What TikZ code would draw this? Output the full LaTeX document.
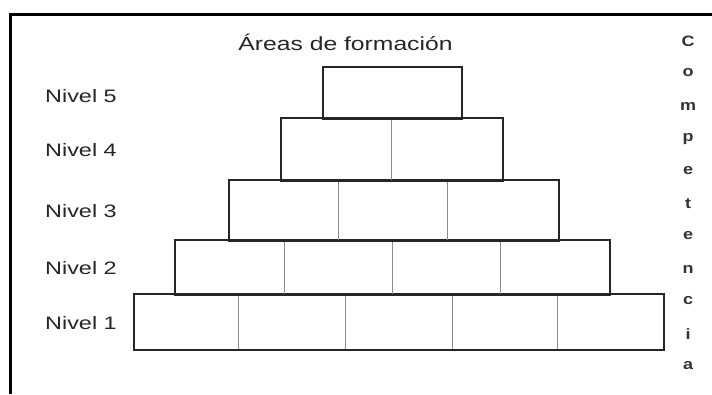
\documentclass[tikz,border=0pt]{standalone}
\usepackage{graphicx}
\usepackage{fontspec}
\setmainfont{Liberation Sans}
\newcommand{\wide}[1]{\scalebox{1.3}[1]{#1}}
\newcommand{\wideb}[1]{\scalebox{1.2}[1]{#1}}
\tikzset{
  cellbox/.style={draw=black!45, line width=1pt, inner sep=0pt, anchor=center},
  levelbox/.style={draw=black!85, line width=2pt},
  nivlabel/.style={anchor=west, inner sep=0pt, font=\fontsize{18}{20}\selectfont, text=black!85},
  title/.style={anchor=base, inner sep=0pt, font=\fontsize{19}{21}\selectfont, text=black!85},
  letter/.style={anchor=center, inner sep=0pt, font=\fontsize{15}{16}\selectfont\bfseries, text=black!80},
  frame/.style={line width=3pt, black}
}
\newcommand{\cell}[5]{\node[cellbox, minimum width=#2pt, minimum height=#4pt] (#1) at (#3,#5) {};}
\begin{document}
\begin{tikzpicture}[x=1pt,y=-1pt]
\useasboundingbox (0,0) rectangle (712,394);
\fill[white] (0,0) rectangle (712,394);
% frame
\coordinate (fbl) at (10,394);
\coordinate (ftl) at (10,14);
\coordinate (ftr) at (712,14);
\draw[frame] (fbl) -- (ftl) -- (ftr);
% title
\node[title] (areas) at (345.5,50) {\wide{Áreas de formación}};
% level 1
\cell{a1}{104}{186}{55}{321.5}
\cell{a2}{107}{291.5}{55}{321.5}
\cell{a3}{107}{398.5}{55}{321.5}
\cell{a4}{105}{504.5}{55}{321.5}
\cell{a5}{106}{610}{55}{321.5}
\draw[levelbox] (a1.north west) rectangle (a5.south east);
% level 2
\cell{b1}{109}{229.5}{54}{267}
\cell{b2}{108}{338}{54}{267}
\cell{b3}{108}{446}{54}{267}
\cell{b4}{109}{554.5}{54}{267}
\draw[levelbox] (b1.north west) rectangle (b4.south east);
% level 3
\cell{c1}{109}{283.5}{60}{210}
\cell{c2}{109}{392.5}{60}{210}
\cell{c3}{111}{502.5}{60}{210}
\draw[levelbox] (c1.north west) rectangle (c3.south east);
% level 4
\cell{d1}{110}{336}{62}{149}
\cell{d2}{111}{446.5}{62}{149}
\draw[levelbox] (d1.north west) rectangle (d2.south east);
% level 5
\cell{e1}{138}{392}{51}{92.5}
\draw[levelbox] (e1.north west) rectangle (e1.south east);
% labels
\node[nivlabel] (n5) at (45,96) {\wide{Nivel 5}};
\node[nivlabel] (n4) at (45,150) {\wide{Nivel 4}};
\node[nivlabel] (n3) at (45,211) {\wide{Nivel 3}};
\node[nivlabel] (n2) at (45,268) {\wide{Nivel 2}};
\node[nivlabel] (n1) at (45,323) {\wide{Nivel 1}};
% Competencia
\node[letter] (l1) at (688,41) {\wideb{C}};
\node[letter] (l2) at (688,73) {\wideb{o}};
\node[letter] (l3) at (688,106) {\wideb{m}};
\node[letter] (l4) at (688,139) {\wideb{p}};
\node[letter] (l5) at (688,171) {\wideb{e}};
\node[letter] (l6) at (688,204) {\wideb{t}};
\node[letter] (l7) at (688,236) {\wideb{e}};
\node[letter] (l8) at (688,269) {\wideb{n}};
\node[letter] (l9) at (688,301) {\wideb{c}};
\node[letter] (l10) at (688,334) {\wideb{i}};
\node[letter] (l11) at (688,366) {\wideb{a}};
\end{tikzpicture}
\end{document}
